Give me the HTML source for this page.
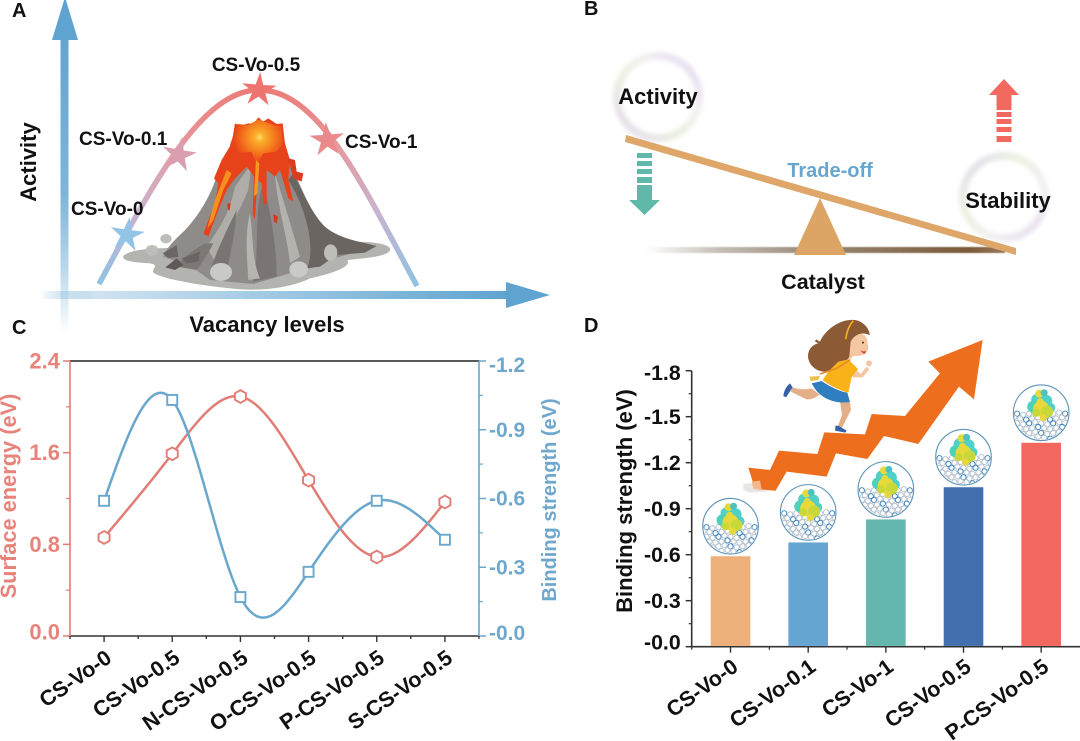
<!DOCTYPE html>
<html lang="en">
<head>
<meta charset="utf-8">
<title>Catalyst vacancy trade-off figure</title>
<style>
html,body{margin:0;padding:0;background:#fff;width:1080px;height:741px;overflow:hidden}
svg{display:block}
text{font-family:"Liberation Sans",Arial,sans-serif;font-weight:700}
</style>
</head>
<body>
<svg id="fig" xmlns="http://www.w3.org/2000/svg" width="1080" height="741" viewBox="0 0 1080 741">
<defs>
<linearGradient id="gv" gradientUnits="userSpaceOnUse" x1="0" y1="30" x2="0" y2="332"><stop offset="0" stop-color="#5fa4d0"/><stop offset=".55" stop-color="#7fb6da"/><stop offset="1" stop-color="#5fa4d0" stop-opacity="0"/></linearGradient>
<linearGradient id="gh" gradientUnits="userSpaceOnUse" x1="40" y1="0" x2="510" y2="0"><stop offset="0" stop-color="#5fa4d0" stop-opacity="0"/><stop offset=".12" stop-color="#cfe3f1"/><stop offset="1" stop-color="#5fa4d0"/></linearGradient>
<linearGradient id="gc" gradientUnits="userSpaceOnUse" x1="0" y1="88" x2="0" y2="286"><stop offset="0" stop-color="#ec7b76"/><stop offset=".3" stop-color="#e59aa0"/><stop offset=".62" stop-color="#c9b3cf"/><stop offset="1" stop-color="#8fc2e2"/></linearGradient>
<linearGradient id="gb1" x1="1" y1="0" x2="0" y2="1"><stop offset="0" stop-color="#e2d6f0"/><stop offset=".35" stop-color="#f3f1f1"/><stop offset=".6" stop-color="#ebf1e0"/><stop offset="1" stop-color="#e6d8f0"/></linearGradient>
<linearGradient id="gb2" x1="0" y1="0" x2="1" y2="1"><stop offset="0" stop-color="#e0dbf0"/><stop offset=".35" stop-color="#ecf2e0"/><stop offset=".7" stop-color="#f2f0f2"/><stop offset="1" stop-color="#e3d8f0"/></linearGradient>
<linearGradient id="gs" x1="0" y1="0" x2="1" y2="0"><stop offset="0" stop-color="#c8c4be" stop-opacity="0"/><stop offset=".2" stop-color="#c6c0b8"/><stop offset=".45" stop-color="#9a8c7a"/><stop offset=".9" stop-color="#7a5a38"/><stop offset="1" stop-color="#9a7a58"/></linearGradient>
<radialGradient id="glava" gradientUnits="userSpaceOnUse" cx="419" cy="82" r="80"><stop offset="0" stop-color="#ffe070"/><stop offset=".16" stop-color="#fbb02c"/><stop offset=".6" stop-color="#f4761c"/><stop offset="1" stop-color="#e8421a"/></radialGradient>
<filter id="soft" x="-20%" y="-20%" width="140%" height="140%"><feGaussianBlur stdDeviation="2"/></filter>
<filter id="soft2" x="-20%" y="-20%" width="140%" height="140%"><feGaussianBlur stdDeviation=".5"/></filter>
<clipPath id="sphere-clip"><circle cx="0" cy="0" r="27"/></clipPath>
<g id="sphere-art" clip-path="url(#sphere-clip)"></g>
</defs>

<!-- Panel A -->
<g id="panel-a">
<text x="12" y="17" font-size="20" fill="#111">A</text>
<rect x="60.5" y="36" width="8" height="296" fill="url(#gv)"/>
<polygon points="52,40 78,40 65,-3" fill="#5fa4d0"/>
<rect x="40" y="291" width="470" height="8" fill="url(#gh)"/>
<polygon points="506,282 506,308 550,295" fill="#5fa4d0"/>
<text x="36" y="162" font-size="22" text-anchor="middle" fill="#111" transform="rotate(-90 36 162)">Activity</text>
<text x="267" y="332" font-size="22" text-anchor="middle" fill="#111">Vacancy levels</text>
<path d="M99,284 C150,190 200,90 259,90 C320,90 365,190 417,286" fill="none" stroke="url(#gc)" stroke-width="5.5"/>

<g transform="translate(120,110) scale(.3333)">
<path d="M10,438 C30,420 70,418 110,415 L700,395 C760,395 815,402 810,420 C805,440 730,445 682,450 C695,470 640,490 570,505 C520,530 430,545 350,537 C270,530 130,510 100,488 C95,475 120,465 90,460 C50,458 5,455 10,438Z" fill="#b3b3b0"/>
<path d="M345,130 L290,200 C270,260 240,310 200,355 C170,385 140,410 130,440 L215,470 L270,510 L400,522 L560,475 L640,445 L770,410 C720,395 650,385 610,345 C570,300 545,240 510,150Z" fill="#8f8b88"/>
<path d="M520,190 C550,250 575,310 612,348 C650,385 720,395 770,408 L735,428 L650,435 L600,470 L562,475 C590,400 550,280 505,210Z" fill="#6b6562"/>
<path d="M395,160 L345,230 C330,300 310,340 260,410 L285,455 C320,370 360,300 385,240Z" fill="#b0ada9"/>
<path d="M430,220 C450,300 470,400 470,500 L400,515 C420,420 400,300 430,220Z" fill="#7a7573"/>
<path d="M350,300 C345,380 330,430 320,490 L270,480 C300,400 330,340 350,300Z" fill="#7a7572"/>
<path d="M465,190 C490,270 520,370 540,440 L510,460 C500,370 470,280 465,190Z" fill="#b5b2ad"/>
<path d="M390,310 C400,380 395,450 420,505 L385,510 C380,430 375,370 390,310Z" fill="#b8b5b1"/>
<path d="M255,400 C220,420 190,440 170,470 L230,480 C250,455 270,420 280,400Z" fill="#7d7873"/>
<ellipse cx="303" cy="486" rx="33" ry="27" fill="#c9c9c7"/><ellipse cx="536" cy="478" rx="28" ry="24" fill="#c9c9c7"/><ellipse cx="632" cy="428" rx="20" ry="25" fill="#bdbdba"/><ellipse cx="96" cy="421" rx="19" ry="16" fill="#bdbdba"/><ellipse cx="138" cy="386" rx="17" ry="14" fill="#bdbdba"/><path d="M136,472 L170,445 L190,465 L165,480Z" fill="#5e5955"/><path d="M128,430 L170,405 L175,440 L145,444Z" fill="#6b6663"/><path d="M185,445 L240,425 L235,455 L200,460Z" fill="#6b6663"/>
<path d="M345,40 L360,48 L385,40 L400,42 L415,22 L430,35 L445,25 L470,42 L488,40 L495,100 L510,150 L505,210 L520,275 L505,265 L480,180 L465,200 L440,180 L440,280 L430,285 L425,220 L412,210 L405,330 L398,310 L402,200 L380,170 L345,205 L320,240 L295,300 L265,380 L250,370 L285,280 L295,220 L282,205 L305,150 L335,100Z" fill="#e8421a"/>
<path d="M352,42 L385,45 L415,28 L470,48 L484,45 L490,100 L470,125 L430,130 L410,165 L395,125 L355,130 L330,105Z" fill="url(#glava)"/>
<path d="M505,145 L525,150 L530,185 L550,190 L545,215 L520,205Z" fill="#dd3a20"/>
<path d="M320,180 L285,270 L262,355 L280,330 L310,240 L335,190Z" fill="#f58f1e"/>
<path d="M408,150 L402,260 L412,250 L418,160Z" fill="#f59a20"/>
<path d="M322,280 l10,0 l-3,22 l-6,-4Z M460,312 l14,8 l-4,20 l-8,-6Z" fill="#d23a1a"/>
</g>

<g transform="translate(127,235) rotate(8) scale(1.2)"><polygon points="0,-15 3.2,-4.4 14.3,-4.6 5.2,1.7 8.8,12.1 0,5.5 -8.8,12.1 -5.2,1.7 -14.3,-4.6 -3.2,-4.4" fill="#93c4e6"/></g>
<g transform="translate(179,155) rotate(10) scale(1.2)"><polygon points="0,-15 3.2,-4.4 14.3,-4.6 5.2,1.7 8.8,12.1 0,5.5 -8.8,12.1 -5.2,1.7 -14.3,-4.6 -3.2,-4.4" fill="#d99fae"/></g>
<g transform="translate(259,90) rotate(4) scale(1.2)"><polygon points="0,-15 3.2,-4.4 14.3,-4.6 5.2,1.7 8.8,12.1 0,5.5 -8.8,12.1 -5.2,1.7 -14.3,-4.6 -3.2,-4.4" fill="#ee7470"/></g>
<g transform="translate(327,140) rotate(-4) scale(1.2)"><polygon points="0,-15 3.2,-4.4 14.3,-4.6 5.2,1.7 8.8,12.1 0,5.5 -8.8,12.1 -5.2,1.7 -14.3,-4.6 -3.2,-4.4" fill="#ea8a8c"/></g>
<text x="256" y="71" font-size="19" text-anchor="middle" fill="#111">CS-Vo-0.5</text>
<text x="79" y="145" font-size="19" fill="#111">CS-Vo-0.1</text>
<text x="345" y="148" font-size="19" fill="#111">CS-Vo-1</text>
<text x="71" y="215" font-size="19" fill="#111">CS-Vo-0</text>
</g>

<!-- Panel B -->
<g id="panel-b">
<text x="584" y="15" font-size="20" fill="#111">B</text>
<rect x="645" y="247" width="360" height="6" fill="url(#gs)" filter="url(#soft2)"/>
<circle cx="658" cy="97" r="41" fill="#fff" stroke="url(#gb1)" stroke-width="8" filter="url(#soft)"/>
<circle cx="1004" cy="197" r="41" fill="#fff" stroke="url(#gb2)" stroke-width="8" filter="url(#soft)"/>
<polygon points="820,198 794,255 846,255" fill="#dca566"/>
<polygon points="626,135 1016,248 1016,255 625,142" fill="#dfa669"/>
<text x="658" y="104" font-size="22" text-anchor="middle" fill="#111">Activity</text>
<text x="1008" y="208" font-size="22" text-anchor="middle" fill="#111">Stability</text>
<text x="830" y="177" font-size="20" text-anchor="middle" fill="#67a6d1">Trade-off</text>
<text x="823" y="289" font-size="21.500" text-anchor="middle" fill="#111">Catalyst</text>
<g fill="#f2695f"><polygon points="1004,79 1019,95 989,95"/><rect x="996.500" y="95" width="15" height="15"/><rect x="996.500" y="112" width="15" height="5"/><rect x="996.500" y="119" width="15" height="5"/><rect x="996.500" y="127" width="15" height="5"/><rect x="996.500" y="136" width="15" height="6"/></g>
<g fill="#5fb8aa"><rect x="637" y="153" width="15" height="5"/><rect x="637" y="161" width="15" height="5"/><rect x="637" y="169" width="15" height="5"/><rect x="637" y="177" width="15" height="6"/><rect x="637" y="185" width="15" height="16"/><polygon points="629,200 660,200 644.500,215"/></g>
</g>

<!-- Panel C -->
<g id="panel-c">
<text x="12" y="334" font-size="20" fill="#111">C</text>
</g>

<!-- Panel D -->
<g id="panel-d">
<text x="584" y="332" font-size="20" fill="#111">D</text>
<g transform="translate(580,340) scale(.3333)">
<path d="M490,432 L530,428 L590,452 L510,458 L490,450Z" fill="#e8e6e2"/>
<polygon points="505,383 570,390 597,332 712,342 733,277 855,283 875,222 975,228 1080,100 1045,65 1208,0 1182,178 1137,140 1015,312 912,288 862,357 768,340 740,410 620,395 587,452 525,447" fill="#ed6f1e"/>
<path d="M515,425 L540,422 L545,447 L520,447Z" fill="#f3b88c"/>
</g>
<g transform="translate(770,300) scale(.3333)">
<path d="M125,265 C100,270 85,268 68,262 L62,275 L110,298 C130,300 145,285 150,285Z" fill="#e3ae88"/>
<path d="M60,250 L68,262 L48,292 L40,288 C42,270 50,258 60,250Z" fill="#3560a8"/>
<path d="M210,305 L240,305 L243,330 L215,385 L203,380 L216,345Z" fill="#e3ae88"/>
<path d="M197,376 L206,378 L230,392 L226,398 L195,392Z" fill="#3560a8"/>
<path d="M232,105 C250,95 285,95 292,120 L295,145 C290,165 270,170 250,168 L240,180 L225,175 C235,150 225,130 232,105Z" fill="#f5c6a2"/>
<path d="M240,60 C275,55 300,85 299,106 C280,95 255,100 242,125 L238,170 C225,195 190,215 160,215 C125,210 110,180 115,160 C118,142 133,132 145,130 L135,125 L138,118 L150,125 C165,90 205,62 240,60Z" fill="#8c5a34"/>
<path d="M250,62 C238,75 230,95 227,118" fill="none" stroke="#f2b01e" stroke-width="5"/>
<path d="M272,150 q8,8 16,2 l-2,8 q-8,4 -14,-10Z" fill="#d8432c"/>
<circle cx="279" cy="128" r="3" fill="#4a2c18"/>
<path d="M255,205 L272,222 L290,200 L298,208 L278,232 L248,232Z" fill="#f5c6a2"/><circle cx="297" cy="190" r="9" fill="#f5c6a2"/>
<path d="M205,185 L235,178 L264,207 L245,232 L235,278 C210,272 175,255 158,240 L175,215Z" fill="#f9b21a"/>
<path d="M125,250 L155,243 C180,260 210,275 232,278 L240,306 C200,312 150,300 125,250Z" fill="#2f7fc0"/>
<path d="M150,222 L200,205 L240,180" fill="none" stroke="#e68a2a" stroke-width="5"/>
<path d="M118,230 L150,228 L145,240 L122,243Z" fill="#e8c24a"/>
</g>
</g>

<script>
// Panel C data
var cCategories = ['CS-Vo-0','CS-Vo-0.5','N-CS-Vo-0.5','O-CS-Vo-0.5','P-CS-Vo-0.5','S-CS-Vo-0.5'];
var surfaceEnergy = [0.86,1.59,2.09,1.36,0.69,1.17];
var bindingStrengthC = [0.59,1.03,0.17,0.28,0.59,0.42];
var surfaceTicks = [0,0.8,1.6,2.4];
var surfaceMinorTicks = [0.4,1.2,2.0];
var bindingTicksC = [0,0.3,0.6,0.9,1.2];
var bindingMinorTicksC = [0.15,0.45,0.75,1.05];
// Panel D data
var dCategories = ['CS-Vo-0','CS-Vo-0.1','CS-Vo-1','CS-Vo-0.5','P-CS-Vo-0.5'];
var bindingStrengthD = [0.59,0.68,0.83,1.04,1.33];
var barColors = ['#edb07a','#64a5d2','#64b7ae','#426fae','#f2685f'];
var bindingTicksD = [0,0.3,0.6,0.9,1.2,1.5,1.8];
var bindingMinorTicksD = [0.15,0.45,0.75,1.05,1.35,1.65];

var NS = 'http://www.w3.org/2000/svg';
function mk(tag, attrs, parent){
  var e = document.createElementNS(NS, tag);
  for (var k in attrs) e.setAttribute(k, attrs[k]);
  parent.appendChild(e);
  return e;
}
function spline(pts){
  var n = pts.length, h = [], i, a = [], b = [], c = [], d = [], m = new Array(n).fill(0);
  for (i = 0; i < n-1; i++) h[i] = pts[i+1][0]-pts[i][0];
  a[0]=0;b[0]=1;c[0]=0;d[0]=0;a[n-1]=0;b[n-1]=1;c[n-1]=0;d[n-1]=0;
  for (i = 1; i < n-1; i++){
    a[i]=h[i-1];b[i]=2*(h[i-1]+h[i]);c[i]=h[i];
    d[i]=6*((pts[i+1][1]-pts[i][1])/h[i]-(pts[i][1]-pts[i-1][1])/h[i-1]);
  }
  for (i = 1; i < n; i++){ var w=a[i]/b[i-1]; b[i]-=w*c[i-1]; d[i]-=w*d[i-1]; }
  m[n-1]=d[n-1]/b[n-1];
  for (i = n-2; i >= 0; i--) m[i]=(d[i]-c[i]*m[i+1])/b[i];
  var s = 'M'+pts[0][0]+','+pts[0][1];
  for (i = 0; i < n-1; i++){
    for (var j = 1; j <= 24; j++){
      var t=j/24, A=1-t, B=t;
      var y=A*pts[i][1]+B*pts[i+1][1]+((A*A*A-A)*m[i]+(B*B*B-B)*m[i+1])*h[i]*h[i]/6;
      s+=' L'+(pts[i][0]+t*h[i]).toFixed(2)+','+y.toFixed(2);
    }
  }
  return s;
}

// ---- Panel C ----
var pc = document.getElementById('panel-c');
var cL=70, cR=479, cT=361, cB=636, red='#e07d76', blue='#6aa7cd';
function cx(i){ return cL + (i+0.5)*(cR-cL)/cCategories.length; }
function ySurf(v){ return cB - v/2.4*(cB-cT); }
function yBind(v){ return cB - v/1.2*(cB-cT); }

var axT = mk('line',{x1:cL,x2:cR,y1:cT,y2:cT,stroke:'#222','stroke-width':1.4},pc);


var axB = mk('line',{x1:cL-1,x2:cR,y1:cB,y2:cB,stroke:'#333','stroke-width':1.4},pc);


var axL = mk('line',{x1:cL,x2:cL,y1:cT,y2:cB,stroke:red,'stroke-width':1.6},pc);


var axR = mk('line',{x1:cR,x2:cR,y1:cT,y2:cB,stroke:blue,'stroke-width':1.6},pc);



surfaceTicks.forEach(function(v){
  var t = mk('line',{x1:cL-7,x2:cL,y1:ySurf(v),y2:ySurf(v),stroke:red,'stroke-width':1.5},pc);
  
  
  var l = mk('text',{x:cL-10,y:ySurf(v)+(v===0?3.5:7.5),'font-size':22,'text-anchor':'end',fill:'#e8837c'},pc);
  
  
  l.textContent = v.toFixed(1);
});
surfaceMinorTicks.forEach(function(v){
  var t = mk('line',{x1:cL-4,x2:cL,y1:ySurf(v),y2:ySurf(v),stroke:red,'stroke-width':1.2},pc);
  
  
});
bindingTicksC.forEach(function(v){
  var t = mk('line',{x1:cR,x2:cR+7,y1:yBind(v),y2:yBind(v),stroke:blue,'stroke-width':1.5},pc);
  
  
  var l = mk('text',{x:cR+10,y:yBind(v)+(v===0?4:(v===1.2?11:7)),'font-size':21,fill:'#6fa8cc'},pc);
  
  
  l.textContent = '-'+v.toFixed(1);
});
bindingMinorTicksC.forEach(function(v){
  var t = mk('line',{x1:cR,x2:cR+4,y1:yBind(v),y2:yBind(v),stroke:blue,'stroke-width':1.2},pc);
  
  
});
cCategories.forEach(function(name,i){
  var t = mk('line',{x1:cx(i),x2:cx(i),y1:cB,y2:cB+6,stroke:'#333','stroke-width':1.4},pc);
  
  
  var m = mk('line',{x1:cx(i)-(cR-cL)/12,x2:cx(i)-(cR-cL)/12,y1:cB,y2:cB+3,stroke:'#333','stroke-width':1.2},pc);
  
  
  var m2 = mk('line',{x1:cx(i)+(cR-cL)/12,x2:cx(i)+(cR-cL)/12,y1:cB,y2:cB+3,stroke:'#333','stroke-width':1.2},pc);
  
  
  var l = mk('text',{'font-size':21.5,'text-anchor':'end',fill:'#111',transform:'translate('+(cx(i)+9)+','+(cB+25)+') rotate(-35)'},pc);
  
  
  l.textContent = name;
});
var sLine = mk('path',{d:spline(surfaceEnergy.map(function(v,i){return [cx(i),ySurf(v)];})),fill:'none',stroke:red,'stroke-width':2.5},pc);


var bLine = mk('path',{d:spline(bindingStrengthC.map(function(v,i){return [cx(i),yBind(v)];})),fill:'none',stroke:blue,'stroke-width':2.5},pc);


surfaceEnergy.forEach(function(v,i){
  var p = [], r = 6.4, a;
  for (a = 0; a < 6; a++) p.push((cx(i)+r*Math.sin(a*Math.PI/3)).toFixed(2)+','+(ySurf(v)+r*Math.cos(a*Math.PI/3)).toFixed(2));
  var h = mk('polygon',{points:p.join(' '),fill:'#fff',stroke:red,'stroke-width':1.9},pc);
  
  
});
bindingStrengthC.forEach(function(v,i){
  var q = mk('rect',{x:cx(i)-5,y:yBind(v)-5,width:10,height:10,fill:'#fff',stroke:blue,'stroke-width':1.9},pc);
  
  
});
var tl = mk('text',{'font-size':21.8,'text-anchor':'middle',fill:'#e8837c',transform:'translate(16,496) rotate(-90)'},pc);


tl.textContent = 'Surface energy (eV)';
var tr = mk('text',{'font-size':20,'text-anchor':'middle',fill:'#6fa8cc',transform:'translate(556,500) rotate(-90)'},pc);


tr.textContent = 'Binding strength (eV)';

// ---- Sphere artwork (decorative) ----
var art = document.getElementById('sphere-art');
var row, col;
for (row = 0; row < 6; row++){
  for (col = -5; col < 6; col++){
    var ax = col*6 + (row%2)*3, ay = 2 + row*4.8 - Math.abs(((col+5)%4)-2)*1.1;
    mk('circle',{cx:ax,cy:ay,r:2.6,fill:'none',stroke:((row+col*3)%4===0)?'#2f7fbf':'#b4c0cc','stroke-width':0.9},art);
  }
}
[[-4,-13,6,'#4fd0c8'],[5,-12,6,'#4fd0c8'],[-8,-6,6,'#4fd0b8'],[9,-5,5,'#4fd0c8'],[0,-4,8,'#e7d93a'],[6,-1,6,'#c8d83a'],[-2,-19,4,'#e7d93a'],[3,-20,3.5,'#4fc0c0'],[-1,-11,3.5,'#e7d93a'],[-5,0,4,'#c8d83a'],[2,5,3.5,'#e7d93a']].forEach(function(b){
  mk('circle',{cx:b[0],cy:b[1],r:b[2],fill:b[3]},art);
});

// ---- Panel D ----
var pd = document.getElementById('panel-d');
var dL=691.7, dR=1080, dT=370.7, dB=646.7;
function dx(i){ return dL + (i+0.5)*(dR-dL)/dCategories.length; }
function yD(v){ return dB - v/1.8*(dB-dT); }
var dAxY = mk('line',{x1:dL,x2:dL,y1:dT,y2:dB,stroke:'#333','stroke-width':1.6},pd);


var dAxX = mk('line',{x1:dL-1,x2:dR,y1:dB,y2:dB,stroke:'#333','stroke-width':1.6},pd);


bindingTicksD.forEach(function(v){
  var t = mk('line',{x1:dL-6,x2:dL,y1:yD(v),y2:yD(v),stroke:'#333','stroke-width':1.5},pd);
  
  
  var l = mk('text',{x:dL-11,y:yD(v)+(v===0?3:v===1.8?9.5:7.5),'font-size':21.3,'text-anchor':'end',fill:'#111'},pd);
  
  
  l.textContent = '-'+v.toFixed(1);
});
bindingMinorTicksD.forEach(function(v){
  var t = mk('line',{x1:dL-3,x2:dL,y1:yD(v),y2:yD(v),stroke:'#333','stroke-width':1.2},pd);
  
  
});
dCategories.forEach(function(name,i){
  var b = mk('rect',{x:dx(i)-19.8,y:yD(bindingStrengthD[i]),width:39.6,height:dB-yD(bindingStrengthD[i])-0.8,fill:barColors[i]},pd);
  
  
  var t = mk('line',{x1:dx(i),x2:dx(i),y1:dB,y2:dB+6,stroke:'#333','stroke-width':1.4},pd);
  
  
  var m = mk('line',{x1:dx(i)-(dR-dL)/10,x2:dx(i)-(dR-dL)/10,y1:dB,y2:dB+3,stroke:'#333','stroke-width':1.2},pd);
  
  
  var l = mk('text',{'font-size':21.5,'text-anchor':'end',fill:'#111',transform:'translate('+(dx(i)+9)+','+(dB+23)+') rotate(-36)'},pd);
  
  
  l.textContent = name;
  var g = mk('g',{transform:'translate('+dx(i)+','+(yD(bindingStrengthD[i])-30)+')'},pd);
  
  
  mk('circle',{cx:0,cy:0,r:27.8,fill:'#fff',stroke:'#5b93b8','stroke-width':1.1},g);
  mk('use',{href:'#sphere-art'},g);
});
var dT2 = mk('text',{'font-size':22,'text-anchor':'middle',fill:'#111',transform:'translate(632,501) rotate(-90)'},pd);


dT2.textContent = 'Binding strength (eV)';
</script>
</svg>
</body>
</html>
